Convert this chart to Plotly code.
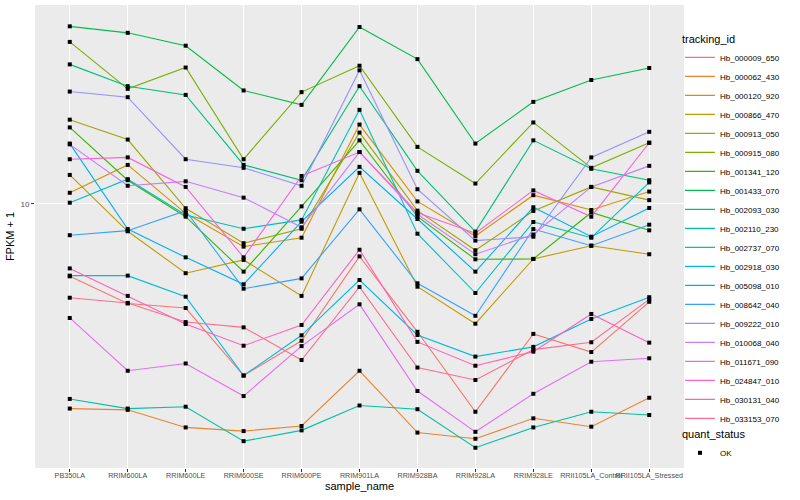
import plotly.graph_objects as go

sample_name = ["PB350LA", "RRIM600LA", "RRIM600LE", "RRIM600SE", "RRIM600PE",
               "RRIM901LA", "RRIM928BA", "RRIM928LA", "RRIM928LE",
               "RRII105LA_Control", "RRII105LA_Stressed"]

tracking_id = ["Hb_000009_650", "Hb_000062_430", "Hb_000120_920", "Hb_000866_470",
               "Hb_000913_050", "Hb_000915_080", "Hb_001341_120", "Hb_001433_070",
               "Hb_002093_030", "Hb_002110_230", "Hb_002737_070", "Hb_002918_030",
               "Hb_005098_010", "Hb_008642_040", "Hb_009222_010", "Hb_010068_040",
               "Hb_011671_090", "Hb_024847_010", "Hb_030131_040", "Hb_033153_070"]

# FPKM + 1 per sample (same order as sample_name)
Hb_000009_650 = [5.74, 4.66, 4.50, 2.68, 3.50, 6.69, 3.75, 2.03, 3.69, 3.21, 4.72]
Hb_000062_430 = [2.08, 2.06, 1.80, 1.75, 1.82, 2.78, 1.73, 1.65, 1.93, 1.81, 2.26]
Hb_000120_920 = [10.9, 13.5, 9.31, 7.21, 7.72, 18.4, 10.2, 7.82, 10.7, 9.55, 11.0]
Hb_000866_470 = [12.5, 8.11, 5.88, 6.51, 4.94, 12.7, 5.30, 3.99, 6.56, 7.26, 6.80]
Hb_000913_050 = [19.1, 16.4, 9.68, 7.40, 8.27, 17.3, 9.50, 7.01, 9.48, 11.4, 10.3]
Hb_000915_080 = [34.7, 24.2, 28.5, 14.1, 23.6, 28.9, 15.5, 11.7, 18.7, 13.2, 16.0]
Hb_001341_120 = [18.0, 12.0, 9.07, 5.95, 9.82, 16.3, 9.07, 6.54, 6.56, 9.37, 8.17]
Hb_001433_070 = [39.1, 37.2, 33.7, 23.9, 21.4, 38.9, 30.4, 15.9, 21.9, 25.9, 28.4]
Hb_002093_030 = [29.2, 24.7, 23.1, 13.5, 12.0, 24.7, 12.9, 8.09, 16.3, 13.1, 12.0]
Hb_002110_230 = [2.24, 2.08, 2.11, 1.62, 1.76, 2.13, 2.07, 1.54, 1.80, 2.03, 1.98]
Hb_002737_070 = [10.1, 12.1, 9.19, 8.27, 8.85, 20.6, 7.96, 5.05, 8.71, 7.72, 11.8]
Hb_002918_030 = [5.77, 5.77, 4.91, 2.68, 3.65, 5.58, 3.66, 3.10, 3.34, 4.14, 4.89]
Hb_005098_010 = [15.9, 8.25, 6.64, 5.40, 8.73, 13.3, 8.91, 5.95, 9.75, 7.78, 9.70]
Hb_008642_040 = [7.87, 8.15, 9.50, 5.22, 5.65, 9.60, 5.44, 4.24, 8.25, 7.26, 8.53]
Hb_009222_010 = [23.7, 22.7, 14.1, 13.2, 11.5, 27.9, 11.2, 7.55, 7.78, 14.3, 17.4]
Hb_010068_040 = [15.8, 11.5, 11.9, 10.5, 8.36, 14.9, 9.24, 6.80, 7.91, 11.4, 13.4]
Hb_011671_090 = [4.17, 2.78, 2.94, 2.29, 3.36, 4.63, 2.38, 1.74, 2.33, 2.98, 3.06]
Hb_024847_010 = [14.1, 14.3, 11.4, 6.64, 12.4, 14.9, 9.35, 7.99, 11.1, 9.07, 16.0]
Hb_030131_040 = [6.10, 4.94, 3.98, 3.37, 3.95, 7.04, 3.47, 2.89, 3.22, 4.30, 3.45]
Hb_033153_070 = [4.87, 4.68, 4.04, 3.88, 3.02, 5.29, 2.85, 2.59, 3.27, 3.46, 4.81]

series = [Hb_000009_650, Hb_000062_430, Hb_000120_920, Hb_000866_470, Hb_000913_050,
          Hb_000915_080, Hb_001341_120, Hb_001433_070, Hb_002093_030, Hb_002110_230,
          Hb_002737_070, Hb_002918_030, Hb_005098_010, Hb_008642_040, Hb_009222_010,
          Hb_010068_040, Hb_011671_090, Hb_024847_010, Hb_030131_040, Hb_033153_070]

colors = ["#F8766D", "#EA8331", "#D89000", "#C09B00", "#A3A500", "#7CAE00", "#39B600",
          "#00BB4E", "#00BF7D", "#00C1A3", "#00BFC4", "#00BAE0", "#00B0F6", "#35A2FF",
          "#9590FF", "#C77CFF", "#E76BF3", "#FA62DB", "#FF62BC", "#FF6C91"]

quant_status = "OK"

FONT = "Liberation Sans, Arial, Helvetica, sans-serif"

fig = go.Figure()
for tid, vals, col in zip(tracking_id, series, colors):
    fig.add_trace(go.Scatter(x=sample_name, y=vals, mode="lines", name=tid,
                             line=dict(color=col, width=1.1), legend="legend",
                             hoverinfo="skip"))

pts_x = [s for vals in series for s in sample_name]
pts_y = [v for vals in series for v in vals]
fig.add_trace(go.Scatter(x=pts_x, y=pts_y, mode="markers", name=quant_status,
                         marker=dict(color="black", size=4, symbol="square"),
                         legend="legend2"))

fig.update_layout(
    width=800, height=500,
    margin=dict(l=35, r=116, t=5, b=32, autoexpand=False),
    paper_bgcolor="white", plot_bgcolor="#EBEBEB",
    font=dict(family=FONT, size=8, color="#4D4D4D"),
    xaxis=dict(type="category", categoryorder="array", categoryarray=sample_name,
               range=[-0.6, 10.6], showgrid=True, gridcolor="white", gridwidth=1.1,
               zeroline=False, showline=False, ticks="outside", ticklen=3,
               tickwidth=1, tickcolor="#333333", tickangle=0, ticklabelstandoff=-3,
               tickfont=dict(family=FONT, size=7.2, color="#4D4D4D"),
               title=dict(text="sample_name", standoff=2,
                          font=dict(family=FONT, size=11, color="black"))),
    yaxis=dict(type="log", range=[0.12, 1.6633], tickmode="array", tickvals=[10],
               ticktext=["10"], showgrid=True, gridcolor="white", gridwidth=1.1,
               zeroline=False, showline=False, ticks="outside", ticklen=3,
               tickwidth=1, tickcolor="#333333",
               tickfont=dict(family=FONT, size=8, color="#4D4D4D"),
               title=dict(text="FPKM + 1", standoff=3,
                          font=dict(family=FONT, size=11, color="black"))),
    legend=dict(title=dict(text="tracking_id", font=dict(family=FONT, size=11, color="black")),
                x=0.9938, xanchor="left", y=0.949, yanchor="top",
                font=dict(family=FONT, size=8, color="black"),
                itemwidth=30, bgcolor="rgba(0,0,0,0)", borderwidth=0,
                tracegroupgap=0),
    legend2=dict(title=dict(text="quant_status", font=dict(family=FONT, size=11, color="black")),
                 x=0.9938, xanchor="left", y=0.095, yanchor="top",
                 font=dict(family=FONT, size=8, color="black"),
                 itemwidth=30, bgcolor="rgba(0,0,0,0)", borderwidth=0),
    showlegend=True,
)

fig.write_html("out.html", config={"displayModeBar": False},
               post_script="document.body.style.margin='0';document.body.style.overflow='hidden';")
